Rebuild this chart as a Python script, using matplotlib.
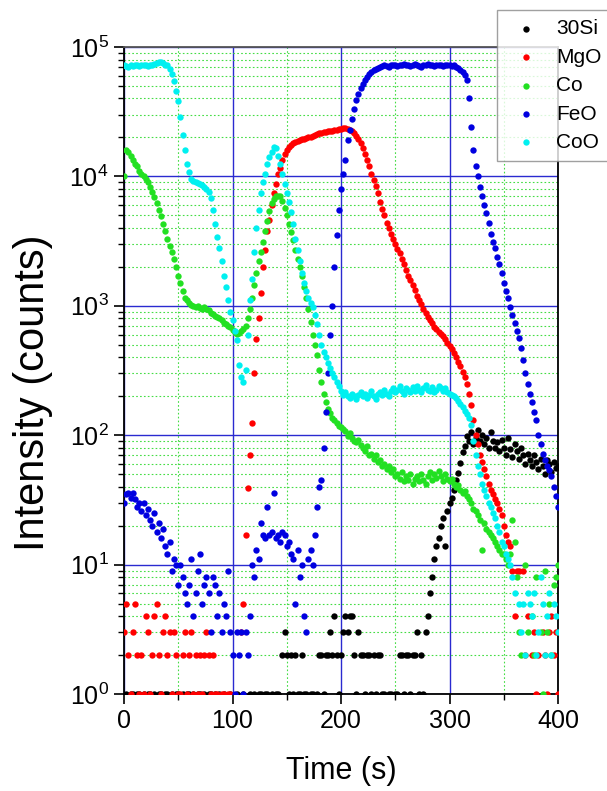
import matplotlib
matplotlib.use("Agg")
import matplotlib.pyplot as plt
import numpy as np
from matplotlib.ticker import LogLocator, MultipleLocator, NullFormatter

plt.rcParams['font.family'] = ['Liberation Sans', 'DejaVu Sans']
plt.rcParams['mathtext.default'] = 'regular'

# sampling times (s), one value per series every 2 s; 0 = no count recorded
time = np.arange(0, 401, 2)

si30 = [0, 1, 0, 1, 1, 0, 1, 1, 0, 1,
        0, 1, 1, 0, 1, 0, 1, 1, 0, 1,
        1, 0, 1, 0, 1, 1, 0, 1, 0, 1,
        1, 0, 1, 0, 1, 1, 0, 1, 0, 1,
        1, 0, 1, 0, 1, 0, 1, 0, 0, 1,
        0, 0, 1, 0, 0, 1, 0, 0, 1, 0,
        1, 0, 1, 1, 0, 1, 1, 0, 1, 0,
        1, 1, 0, 2, 3, 2, 1, 2, 1, 2,
        1, 1, 2, 1, 1, 0, 1, 1, 0, 1,
        2, 2, 1, 2, 2, 3, 2, 4, 2, 1,
        2, 3, 4, 3, 4, 4, 2, 1, 3, 2,
        2, 1, 2, 2, 1, 2, 1, 2, 2, 1,
        1, 0, 1, 1, 0, 1, 1, 2, 2, 1,
        2, 2, 1, 2, 2, 3, 1, 2, 1, 3,
        4, 6, 8, 11, 14, 16, 20, 23, 14, 26,
        30, 33, 38, 45, 51, 61, 74, 82, 98, 90,
        105, 85, 95, 110, 90, 100, 85, 95, 80, 105,
        90, 80, 88, 75, 92, 80, 70, 95, 78, 68,
        85, 75, 65, 80, 70, 60, 72, 64, 58, 70,
        62, 55, 66, 58, 50, 64, 60, 52, 62, 56,
        58]

mgo = [3, 5, 2, 1, 3, 5, 2, 1, 2, 1,
       4, 3, 1, 2, 4, 5, 2, 1, 3, 4,
       2, 3, 1, 3, 2, 1, 1, 2, 3, 1,
       2, 3, 1, 2, 1, 2, 1, 2, 3, 2,
       1, 2, 1, 1, 0, 1, 1, 0, 1, 1,
       0, 0, 0, 0, 3, 5, 17, 39, 70, 125,
       300, 550, 800, 1250, 2000, 2700, 3800, 4600, 6000, 7400,
       8800, 10500, 11700, 13500, 15000, 16000, 17000, 17500, 18000, 18500,
       18800, 19100, 19400, 19600, 19800, 20000, 20300, 20600, 20900, 21200,
       21500, 21700, 21900, 22100, 22300, 22400, 22500, 22700, 22900, 23100,
       23300, 23500, 23600, 23400, 23000, 22500, 21500, 20500, 19500, 18000,
       16500, 15000, 13500, 12000, 10500, 9400, 8400, 7400, 6300, 5600,
       5000, 4400, 4000, 3600, 3300, 3000, 2750, 2550, 2300, 2100,
       1900, 1700, 1580, 1450, 1330, 1200, 1100, 1030, 950, 880,
       820, 780, 730, 690, 660, 630, 610, 580, 550, 520,
       490, 460, 430, 400, 370, 340, 310, 280, 250, 210,
       170, 130, 100, 85, 70, 62, 55, 48, 42, 38,
       35, 32, 30, 27, 24, 20, 17, 15, 14, 9,
       4, 9, 9, 0, 9, 2, 4, 0, 2, 3,
       1, 2, 0, 3, 2, 1, 3, 4, 2, 3,
       1]

co = [10000, 16000, 15500, 14500, 13500, 12500, 12000, 11000, 10500, 10000,
      9500, 9000, 8300, 7600, 6900, 6200, 5500, 4900, 4300, 3800,
      3300, 2900, 2600, 2300, 2000, 1700, 1500, 1300, 1150, 1100,
      1050, 1020, 1000, 980, 1000, 970, 950, 980, 940, 920,
      880, 860, 840, 820, 800, 770, 740, 720, 700, 680,
      650, 630, 610, 620, 640, 660, 700, 800, 950, 1150,
      1450, 1800, 2200, 2600, 3100, 3800, 4500, 5400, 6200, 6700,
      7000, 7100, 7000, 6400, 5700, 5000, 4300, 3700, 3200, 2700,
      2300, 2000, 1700, 1400, 1150, 950, 750, 600, 500, 420,
      320, 260, 210, 180, 160, 148, 135, 130, 124, 118,
      115, 112, 108, 98, 104, 95, 90, 88, 92, 84,
      80, 76, 82, 70, 72, 66, 70, 62, 64, 58,
      60, 55, 58, 52, 55, 48, 50, 46, 52, 44,
      48, 45, 50, 42, 46, 48, 44, 50, 45, 42,
      48, 52, 45, 50, 47, 53, 48, 44, 50, 46,
      44, 46, 42, 40, 41, 38, 36, 37, 34, 32,
      30, 27, 26, 24, 22, 13, 21, 19, 18, 17,
      16, 15, 14, 13, 12, 12, 11, 10, 12, 22,
      15, 8, 3, 2, 0, 10, 3, 0, 4, 2,
      8, 0, 3, 1, 9, 3, 5, 2, 7, 8,
      10]

feo = [30, 35, 36, 33, 36, 32, 28, 30, 26, 30,
       24, 27, 22, 20, 25, 18, 21, 16, 19, 14,
       12, 15, 9, 11, 10, 7, 10, 8, 6, 5,
       7, 11, 4, 6, 9, 12, 5, 7, 8, 6,
       3, 8, 7, 4, 6, 3, 5, 4, 9, 3,
       2, 1, 3, 2, 3, 1, 3, 2, 4, 10,
       8, 13, 11, 21, 17, 16, 28, 17, 18, 36,
       16, 17, 15, 18, 17, 14, 15, 12, 11, 5,
       13, 8, 10, 4, 3, 11, 13, 10, 17, 28,
       40, 45, 80, 150, 300, 600, 1000, 2000, 3500, 5500,
       8000, 10500, 13500, 19000, 23000, 28000, 33000, 39000, 43000, 48000,
       52000, 56000, 59000, 62000, 64000, 66000, 68000, 69000, 70000, 71000,
       72000, 71000, 70000, 72000, 73000, 72000, 71000, 72000, 73000, 74000,
       73000, 72000, 71000, 73000, 74000, 73000, 71000, 70000, 72000, 73000,
       74000, 73000, 72000, 71000, 72000, 73000, 72000, 71000, 72000, 73000,
       72000, 71000, 72000, 70000, 69000, 67000, 64000, 61000, 56000, 40000,
       24000, 16000, 12000, 10000, 8300, 7000, 6000, 5200, 4400, 3600,
       3100, 2800, 2400, 2100, 1800, 1500, 1300, 1150, 980, 850,
       730, 640, 560, 470, 380, 300, 250, 210, 180, 150,
       130, 100, 85, 72, 64, 58, 54, 48, 40, 34,
       28]

coo = [72000, 71000, 70000, 72000, 71000, 72000, 73000, 71000, 72000, 73000,
       72000, 71000, 73000, 72000, 74000, 75000, 76000, 76000, 75000, 73000,
       72000, 68000, 62000, 55000, 46000, 38000, 29000, 21000, 16000, 12500,
       10800, 9600, 9200, 9000, 8900, 8800, 8600, 8300, 8000, 7600,
       6800, 5500, 4300, 3400, 2800, 2200, 1700, 1400, 1100, 900,
       780, 640, 540, 350, 280, 260, 320, 600, 1100, 1600,
       2600, 4000, 5500, 7500, 9000, 10500, 12500, 14000, 15500, 16800,
       16500, 14500, 12500, 10500, 8700, 7400, 6300, 5300, 4300, 3300,
       2700, 2200, 1800, 1500, 1300, 1150, 1050, 980, 850, 720,
       600, 500, 440, 400, 360, 330, 300, 280, 260, 240,
       220, 205, 215, 200, 195, 210, 200, 190, 205, 215,
       200, 210, 195, 205, 220, 200, 190, 210, 215, 205,
       225, 210, 200, 220, 230, 215, 225, 240, 220, 210,
       230, 225, 215, 235, 220, 240, 225, 215, 230, 245,
       225, 220, 235, 215, 225, 240, 230, 220, 230, 215,
       210, 205, 200, 195, 185, 175, 165, 155, 145, 135,
       120, 90, 70, 58, 50, 42, 38, 34, 30, 28,
       25, 23, 20, 18, 15, 14, 12, 11, 10, 8,
       6, 0, 5, 3, 5, 2, 6, 5, 4, 6,
       2, 3, 8, 5, 2, 4, 6, 2, 5, 4,
       3]

series = [('30Si', si30, '#000000'),
          ('MgO', mgo, '#ff0000'),
          ('Co', co, '#22e022'),
          ('FeO', feo, '#0000e0'),
          ('CoO', coo, '#00f0f0')]

fig = plt.figure(figsize=(6.07, 7.91), dpi=100)
ax = fig.add_axes([124 / 607, 1 - 694 / 791, 434 / 607, 647 / 791])

for name, vals, col in series:
    v = np.array(vals, dtype=float)
    if len(v) != len(time):
        raise ValueError(name + ' has ' + str(len(v)) + ' values')
    v[v <= 0] = np.nan
    ax.scatter(time, v, s=21, color=col, linewidths=0, label=name, zorder=3)

ax.set_yscale('log')
ax.set_xlim(0, 400)
ax.set_ylim(1, 1e5)

ax.xaxis.set_major_locator(MultipleLocator(100))
ax.xaxis.set_minor_locator(MultipleLocator(50))
ax.yaxis.set_major_locator(LogLocator(base=10, numticks=10))
ax.yaxis.set_minor_locator(LogLocator(base=10, subs=np.arange(2, 10), numticks=20))
ax.yaxis.set_minor_formatter(NullFormatter())

ax.grid(which='major', color='#2a2ad0', linestyle='-', linewidth=1.0)
ax.grid(which='minor', color='#44dd44', linestyle=(0, (1.5, 2)), linewidth=0.8)
ax.set_axisbelow(True)

ax.tick_params(which='major', direction='out', length=7, width=1.2, labelsize=18, pad=4)
ax.tick_params(which='minor', direction='out', length=4, width=1.0)
ax.tick_params(top=False, right=False)

for side in ['left', 'bottom', 'right']:
    ax.spines[side].set_linewidth(1.3)
    ax.spines[side].set_color('black')
ax.spines['top'].set_color('#555555')
ax.spines['top'].set_linewidth(1.3)

ax.set_xlabel('Time (s)', fontsize=22, labelpad=16)
ax.set_ylabel('Intensity (counts)', fontsize=30)
ax.yaxis.set_label_coords(-0.163, 0.465)

leg = fig.legend(loc='upper left', bbox_to_anchor=(497 / 607, 1 - 10 / 791),
                 fontsize=15, markerscale=1.0, frameon=True, fancybox=False,
                 borderaxespad=0, handletextpad=0.5, labelspacing=0.45,
                 borderpad=0.45, handlelength=1.9)
leg.get_frame().set_edgecolor('#888888')
leg.get_frame().set_linewidth(1.0)

fig.savefig('out.png', dpi=100)
